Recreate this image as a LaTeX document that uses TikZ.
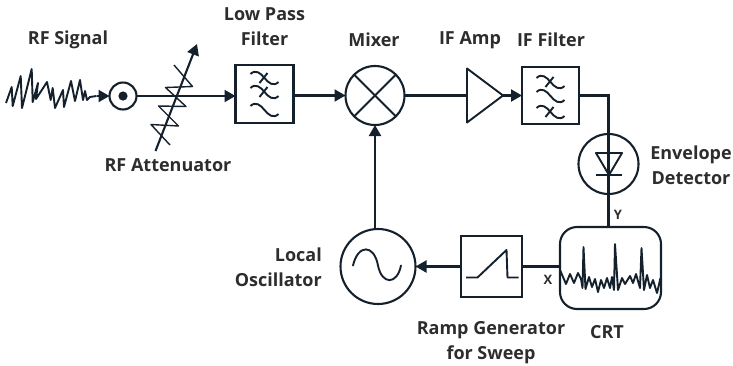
\documentclass[tikz,border=0pt]{standalone}
\usepackage{fontspec}
\setmainfont{Open Sans}
\usetikzlibrary{arrows.meta}
\definecolor{ink}{HTML}{14202B}
\definecolor{labelgray}{HTML}{2E2C2D}
\tikzset{
  wire/.style = {draw = ink, line width = 2.1pt},
  thin wire/.style = {draw = ink, line width = 1.4pt, line join = round},
  symbol/.style = {draw = ink, line width = 1.9pt, line join = round},
  arrowed/.style = {wire, -{Triangle[length = 11pt, width = 12pt]}},
  circuit/.style = {circle, wire, minimum size = #1, inner sep = 0, outer sep = 0},
  boxed/.style = {rectangle, wire, minimum width = #1, minimum height = #1, inner sep = 0, outer sep = 0},
  tag/.style = {text = labelgray, font = \fontsize{18}{25}\selectfont\bfseries, align = center},
  small tag/.style = {text = labelgray, font = \fontsize{13}{14}\selectfont\bfseries},
  wave/.pic = {
    \draw[symbol] (-14,-4) .. controls (-9,-9) and (-4,-5) .. (0,0) .. controls (4,5) and (9,9) .. (14,4);
  },
  tick wave/.pic = {
    \draw[symbol] (-14,-4) .. controls (-9,-9) and (-4,-5) .. (0,0) .. controls (4,5) and (9,9) .. (14,4);
    \draw[symbol] (3,-5) -- (-5,5);
  }
}
\begin{document}
\begin{tikzpicture}[x = 1pt, y = -1pt]
\useasboundingbox (0, 0) rectangle (733, 365);

% blocks along the top
\node[circuit = 27pt] (jack) at (123, 96) {};
\node[boxed = 58pt] (lowpass) at (264.5, 94) {};
\node[circuit = 59pt] (mixer) at (375, 95.5) {};
\node[boxed = 57pt] (iffilter) at (550.5, 95.5) {};

% blocks further down
\node[circuit = 60pt] (detector) at (608.5, 164) {};
\node[rectangle, wire, rounded corners = 17pt, minimum width = 101pt, minimum height = 82pt, inner sep = 0, outer sep = 0] (crt) at (610.5, 268) {};
\node[boxed = 61pt] (ramp) at (491.5, 266.5) {};
\node[circuit = 75pt] (osc) at (378, 266.5) {};

\coordinate (sigend) at (96.5, 96);
\coordinate (attlow) at (155.5, 151);
\coordinate (atthigh) at (197, 44);
\coordinate (corner) at (608.5, 95.5);
\coordinate (ampin) at (467, 95.5);
\coordinate (ampout) at (503, 95.5);

% amplifier
\draw[symbol] (ampin) ++(0, -27) -- (ampout) -- (467, 122.5) -- cycle;

% connections
\draw[arrowed] (sigend) -- (jack.west);
\draw[arrowed] (jack.east) -- (lowpass.west |- jack.east);
\draw[arrowed] (lowpass.east |- mixer.west) -- (mixer.west);
\draw[wire] (mixer.east) -- (ampin);
\draw[arrowed] (ampout) -- (iffilter.west);
\draw[wire] (iffilter.east) -- (corner) -- (detector.north);
\draw[wire] (detector.north) -- (detector.south);
\draw[wire] (detector.south) -- (crt.north -| detector.south);
\draw[wire] (crt.west |- ramp.east) -- (ramp.east);
\draw[arrowed] (ramp.west) -- (osc.east);
\draw[arrowed] (mixer.south |- osc.north) -- (mixer.south);
\draw[arrowed] (attlow) -- (atthigh);

% small symbols inside the blocks
\fill[ink] (jack) circle (4.6);
\draw[wire] (mixer.north west) -- (mixer.south east);
\draw[wire] (mixer.north east) -- (mixer.south west);
\draw[symbol] (596, 153) -- (622, 153) -- (609, 175) -- cycle;
\draw[symbol] (596, 175) -- (622, 175);
\pic at (264.5, 78) {tick wave};
\pic at (264.5, 92) {tick wave};
\pic at (264.5, 110) {wave};
\pic at (550.5, 82) {tick wave};
\pic at (550.5, 96) {wave};
\pic at (550.5, 112) {tick wave};
\draw[symbol, line cap = round] (353, 265.5) .. controls (358, 244) and (374, 244) .. (378, 265.5) .. controls (382, 285) and (397, 285) .. (401, 265.5);
\draw[symbol] (466, 277.5) -- (477.5, 277.5) -- (506.5, 250) -- (507.5, 277.5) -- (518.5, 277.5);

% noisy traces
\draw[symbol] (6, 103) -- (11.7, 87) -- (12.7, 106) -- (20.7, 76) -- (22, 108) -- (31.7, 69) -- (32.7, 102) -- (38, 83) -- (36, 99) -- (47, 82) -- (50.7, 100) -- (52.7, 88) -- (55, 108) -- (63, 90) -- (64, 107) -- (71, 81) -- (75, 101) -- (80, 80) -- (83, 100) -- (85, 91) -- (87, 100) -- (90, 97) -- (sigend);
\draw[thin wire] (170, 145) -- (151, 124.5) -- (178.5, 126) -- (158.5, 106) -- (186, 106.5) -- (165.5, 87.5) -- (192.5, 86.5) -- (174, 65);
\draw[symbol] (560, 270) -- (566, 284) -- (570, 274) -- (574, 283) -- (578, 273) -- (581, 279) -- (582.5, 288) -- (583.5, 247) -- (585.5, 289) -- (589, 277) -- (592, 287) -- (595, 279) -- (598, 292) -- (601, 280) -- (604, 288) -- (607, 278) -- (610, 288) -- (612, 277) -- (614, 290) -- (615, 244) -- (618, 290) -- (622, 278) -- (625, 284) -- (630, 276) -- (633, 283) -- (636, 274) -- (640, 288) -- (641.5, 248) -- (644, 290) -- (647, 275) -- (650, 288) -- (653, 280) -- (657, 293) -- (660.5, 278);

% labels
\node[tag] (siglabel) at (68, 40) {RF Signal};
\node[tag] (attlabel) at (168, 165) {RF Attenuator};
\node[tag] (lowlabel) at (264.5, 27) {Low Pass\\Filter};
\node[tag] (mixlabel) at (374, 40) {Mixer};
\node[tag] (amplabel) at (470, 40) {IF Amp};
\node[tag] (filtlabel) at (551, 40) {IF Filter};
\node[tag] (detlabel) at (691, 165) {Envelope\\Detector};
\node[tag, align = right, anchor = east, inner sep = 0] (osclabel) at (322, 267) {Local\\Oscillator};
\node[tag] (ramplabel) at (491, 343) {Ramp Generator\\for Sweep};
\node[tag] (crtlabel) at (607, 332) {CRT};
\node[small tag] (ylabel) at (618, 215) {Y};
\node[small tag] (xlabel) at (548, 280) {X};
\end{tikzpicture}
\end{document}
